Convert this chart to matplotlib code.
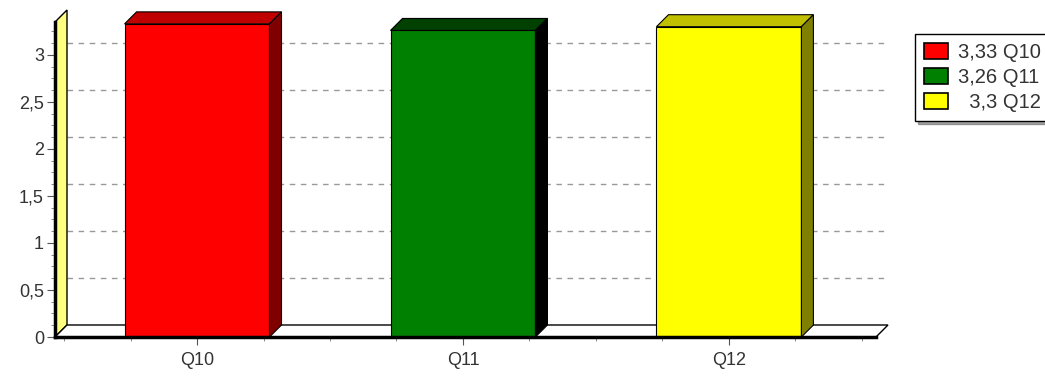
import matplotlib.pyplot as plt
from matplotlib.patches import Polygon, Rectangle
import numpy as np

# data
categories = ["Q10", "Q11", "Q12"]
values = [3.33, 3.26, 3.30]
legend_labels = ["3,33 Q10", "3,26 Q11", "  3,3 Q12"]
front_colors = ["#ff0000", "#008000", "#ffff00"]
top_colors = ["#c00000", "#004000", "#c0c000"]
side_colors = ["#800000", "#000000", "#808000"]
y_ticks = [0, 0.5, 1, 1.5, 2, 2.5, 3]
y_tick_labels = ["0", "0,5", "1", "1,5", "2", "2,5", "3"]

plt.rcParams['font.family'] = ['Liberation Sans', 'DejaVu Sans']
text_color = "#333333"

fig = plt.figure(figsize=(10.45, 3.76), dpi=100)
ax = fig.add_axes([55 / 1045, 39 / 376, 821 / 1045, 315 / 376])
x_min, x_max = -0.534, 2.553
y_max = 3.35
ax.set_xlim(x_min, x_max)
ax.set_ylim(0, y_max)

# depth of the fake 3d effect, in data units
dx = 12 / 266
dy = 12 / 94
bar_w = 0.545

for s in ax.spines.values():
    s.set_visible(False)

# back wall (left) and floor
wall = Polygon([(x_min, 0), (x_min + dx, dy), (x_min + dx, y_max + dy), (x_min, y_max)],
               closed=True, facecolor="#ffff80", edgecolor="black", lw=1, clip_on=False, zorder=1)
ax.add_patch(wall)
floor = Polygon([(x_min, 0), (x_min + dx, dy), (x_max + dx, dy), (x_max, 0)],
                closed=True, facecolor="white", edgecolor="black", lw=1, clip_on=False, zorder=1)
ax.add_patch(floor)

# dashed grid on the back plane
for t in y_ticks[1:]:
    ax.plot([x_min + dx, x_max + dx], [t + dy, t + dy], ls=(0, (4, 4)), color="#999999",
            lw=1, clip_on=False, zorder=0.5)

# bars
x = np.arange(len(categories))
for i, v in enumerate(values):
    x0 = x[i] - bar_w / 2
    x1 = x[i] + bar_w / 2
    ax.add_patch(Rectangle((x0, 0), bar_w, v, facecolor=front_colors[i], edgecolor="black",
                           lw=0.8, clip_on=False, zorder=3))
    ax.add_patch(Polygon([(x0, v), (x0 + dx, v + dy), (x1 + dx, v + dy), (x1, v)], closed=True,
                         facecolor=top_colors[i], edgecolor="black", lw=0.8, clip_on=False, zorder=3))
    ax.add_patch(Polygon([(x1, 0), (x1 + dx, dy), (x1 + dx, v + dy), (x1, v)], closed=True,
                         facecolor=side_colors[i], edgecolor="black", lw=0.8, clip_on=False, zorder=3))

# front axis lines
ax.plot([x_min, x_min], [0, y_max], color="black", lw=2.5, clip_on=False, zorder=4)
ax.plot([x_min, x_max], [0, 0], color="black", lw=2.5, clip_on=False, zorder=4)

ax.set_yticks(y_ticks)
ax.set_yticklabels(y_tick_labels)
ax.set_yticks(np.arange(0, 3.35, 0.125), minor=True)
ax.set_xticks(x)
ax.set_xticklabels(categories)
ax.set_xticks(np.arange(-0.5, 2.51, 0.25), minor=True)
ax.tick_params(axis="both", which="major", length=6, color="#555555", labelsize=13,
               labelcolor=text_color)
ax.tick_params(axis="y", which="major", pad=2)
ax.tick_params(axis="x", which="major", pad=5)
ax.tick_params(axis="both", which="minor", length=3, color="#777777")

handles = [Rectangle((0, 0), 1, 1, facecolor=c, edgecolor="black", lw=1.2) for c in front_colors]
leg = fig.legend(handles, legend_labels, loc="upper left", bbox_to_anchor=(915 / 1045, 1 - 34 / 376),
                 fontsize=14.5, frameon=True, fancybox=False, shadow=True, handlelength=1.2,
                 handleheight=0.85, handletextpad=0.5, borderpad=0.45, labelspacing=0.3,
                 borderaxespad=0)
leg.get_frame().set_edgecolor("black")
leg.get_frame().set_linewidth(1)
for t in leg.get_texts():
    t.set_color(text_color)

fig.savefig("out.png", dpi=100)
